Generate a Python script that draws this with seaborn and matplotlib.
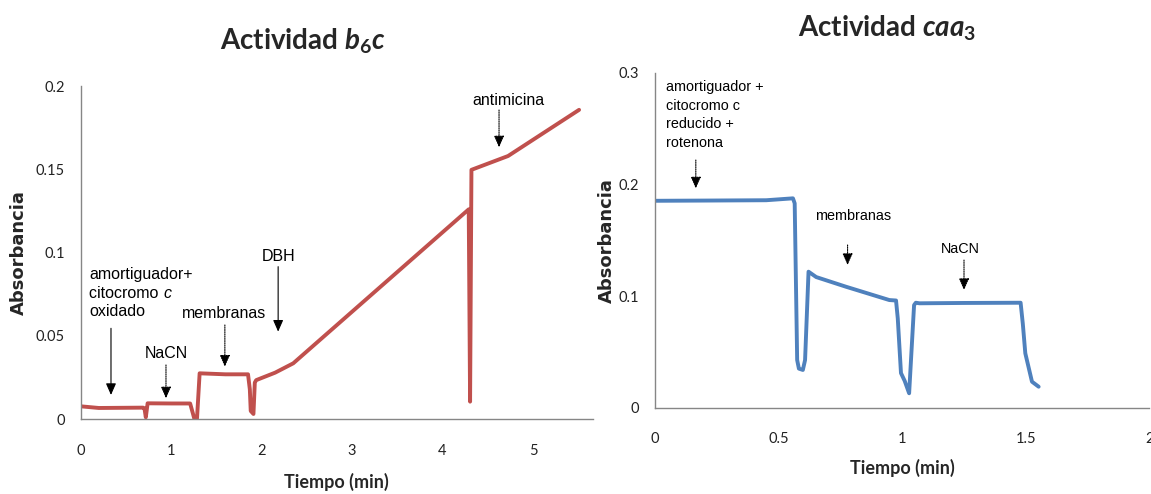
import matplotlib
matplotlib.use("Agg")
from matplotlib import pyplot as plt
import seaborn as sns

sns.set_style("white")
plt.rcParams['font.family'] = ['Lato', 'DejaVu Sans']
plt.rcParams['mathtext.fontset'] = 'custom'
plt.rcParams['mathtext.rm'] = 'Lato:bold'
plt.rcParams['mathtext.it'] = 'Lato:italic:bold'
plt.rcParams['mathtext.bf'] = 'Lato:bold'

note_font = 'Liberation Sans'

# Data ~~~~~~~~~~~~~~~~~~~~~~~~~~~~~~~~~~~~~~~~~~~~~~~~~~~~~~~~~~~~~~~~~
# Actividad b6c (min, absorbancia)
t_b6c = [0, 0.2, 0.69, 0.705, 0.72, 0.74, 1.0, 1.21, 1.24, 1.26, 1.285, 1.315,
         1.6, 1.85, 1.87, 1.88, 1.91, 1.925, 1.94, 2.15, 2.35, 4.29, 4.305,
         4.32, 4.725, 5.51]
abs_b6c = [0.0078, 0.0068, 0.007, 0.0066, 0.0012, 0.0096, 0.0095, 0.0095,
           0.0036, -0.0004, -0.0004, 0.0276, 0.027, 0.027, 0.018, 0.005,
           0.0032, 0.022, 0.0235, 0.028, 0.0336, 0.126, 0.0106, 0.1497,
           0.158, 0.1857]

# Actividad caa3
t_caa3 = [0, 0.2, 0.45, 0.558, 0.565, 0.575, 0.582, 0.598, 0.607, 0.621,
          0.652, 0.773, 0.948, 0.975, 0.982, 0.995, 1.01, 1.028, 1.048,
          1.055, 1.07, 1.25, 1.479, 1.488, 1.498, 1.525, 1.552]
abs_caa3 = [0.1853, 0.1855, 0.1858, 0.1875, 0.183, 0.0427, 0.035, 0.0338,
            0.0427, 0.1218, 0.117, 0.1083, 0.0964, 0.096, 0.08, 0.031, 0.024,
            0.0129, 0.0919, 0.094, 0.0935, 0.0938, 0.094, 0.075, 0.0487,
            0.0233, 0.0188]

# notes: text ("|" = italic part follows), text x, text y, arrow x, arrow top, arrow tip, dotted?
notes_b6c = [
    ("amortiguador+\ncitocromo |c\noxidado", 0.095, 0.0756, 0.335, 0.0546, 0.0146, False),
    ("NaCN", 0.943, 0.0396, 0.943, 0.0326, 0.0126, True),
    ("membranas", 1.587, 0.0636, 1.594, 0.0566, 0.0316, True),
    ("DBH", 2.183, 0.0976, 2.183, 0.0916, 0.0526, False),
    ("antimicina", 4.725, 0.1916, 4.625, 0.1856, 0.1632, True),
]
notes_caa3 = [
    ("amortiguador +\ncitocromo c\nreducido +\nrotenona", 0.044, 0.262, 0.165, 0.2218, 0.1964, True),
    ("membranas", 0.80, 0.1716, 0.779, 0.1457, 0.1278, True),
    ("NaCN", 1.237, 0.1418, 1.25, 0.1322, 0.1054, True),
]

# Figure ~~~~~~~~~~~~~~~~~~~~~~~~~~~~~~~~~~~~~~~~~~~~~~~~~~~~~~~~~~~~~~~
fig = plt.figure(figsize=(11.51, 4.94), dpi=100)
ax1 = fig.add_axes([0.0701, 0.1512, 0.4448, 0.6747])
ax2 = fig.add_axes([0.5691, 0.1747, 0.4295, 0.6781])

sns.lineplot(x=t_b6c, y=abs_b6c, ax=ax1, color='#C0504D', lw=2.8,
             sort=False, estimator=None, solid_joinstyle='round',
             solid_capstyle='round')
sns.lineplot(x=t_caa3, y=abs_caa3, ax=ax2, color='#4F81BD', lw=2.8,
             sort=False, estimator=None, solid_joinstyle='round',
             solid_capstyle='round')

ax1.set_xlim(0, 5.66)
ax1.set_ylim(0, 0.2)
ax1.set_xticks([0, 1, 2, 3, 4, 5])
ax1.set_yticks([0, 0.05, 0.1, 0.15, 0.2])
ax2.set_xlim(0, 2)
ax2.set_ylim(0, 0.3)
ax2.set_xticks([0, 0.5, 1, 1.5, 2])
ax2.set_yticks([0, 0.1, 0.2, 0.3])

for ax in (ax1, ax2):
    ax.set_xticklabels(['{:g}'.format(v) for v in ax.get_xticks()])
    ax.set_yticklabels(['{:g}'.format(v) for v in ax.get_yticks()])
    for s in ('top', 'right'):
        ax.spines[s].set_visible(False)
    for s in ('left', 'bottom'):
        ax.spines[s].set_color('#868686')
        ax.spines[s].set_linewidth(1.0)
    ax.tick_params(direction='out', length=4.5, width=1, color='#868686',
                   labelsize=10.5, labelcolor='#222222')
    ax.tick_params(axis='x', pad=13)
    ax.tick_params(axis='y', pad=7)
    ax.set_xlabel('Tiempo (min)', fontsize=13, fontweight='bold', va='center')
    ax.set_ylabel('Absorbancia', fontsize=13, fontweight='bold',
                  family='DejaVu Sans', va='center')

ax1.xaxis.set_label_coords(0.5, -0.187)
ax1.yaxis.set_label_coords(-0.12, 0.5)
ax2.xaxis.set_label_coords(0.5, -0.181)
ax2.yaxis.set_label_coords(-0.097, 0.5)

renderer = fig.canvas.get_renderer()
step = 18.5  # px between note lines

for ax, notes, fs in ((ax1, notes_b6c, 11.5), (ax2, notes_caa3, 10.4)):
    for txt, tx, ty, axx, y0, y1, dotted in notes:
        lines = txt.split('\n')
        n = len(lines)
        ha = 'left' if n > 1 else 'center'
        for i, line in enumerate(lines):
            dy = (n - 1) / 2 * step - i * step
            head, _, ital = line.partition('|')
            t = ax.annotate(head, xy=(tx, ty), xytext=(0, dy),
                            textcoords='offset pixels', ha=ha, va='center',
                            family=note_font, fontsize=fs, color='black')
            if ital:
                w = t.get_window_extent(renderer).width
                ax.annotate(ital, xy=(tx, ty), xytext=(w, dy),
                            textcoords='offset pixels', ha='left', va='center',
                            family=note_font, fontsize=fs, style='italic',
                            color='black')
        ax.annotate('', xy=(axx, y1), xytext=(axx, y0),
                    arrowprops=dict(arrowstyle='-|>,head_length=0.5,head_width=0.22',
                                    color='black', lw=0.8, mutation_scale=14,
                                    linestyle=(0, (1, 1)) if dotted else '-',
                                    shrinkA=0, shrinkB=0))

fig.text(0.2632, 0.8988, 'Actividad $\\mathit{b_{6}c}$', ha='center',
         va='baseline', fontsize=20, fontweight='bold')
fig.text(0.7706, 0.9257, 'Actividad $\\mathit{caa_{3}}$', ha='center',
         va='baseline', fontsize=20, fontweight='bold')

fig.savefig('out.png', dpi=100)
